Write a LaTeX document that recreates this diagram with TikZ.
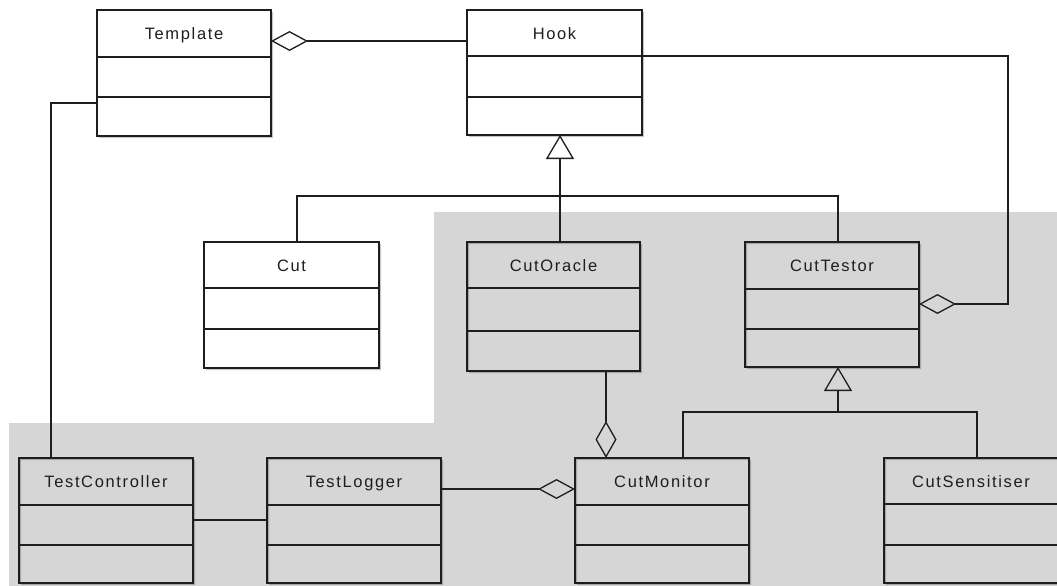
\documentclass[tikz,border=0pt]{standalone}
\usepackage{fontspec}
\newfontfamily\umlfont{Liberation Sans}[LetterSpace=10]
\usetikzlibrary{arrows.meta}
\definecolor{bggray}{RGB}{214,214,214}
\definecolor{ink}{RGB}{30,30,30}
\tikzset{
  clsbox/.style={draw=ink, line width=1.6pt, rectangle, inner sep=0pt, outer sep=0pt},
  clsline/.style={draw=ink, line width=1.6pt},
  clstitle/.style={font=\umlfont\fontsize{16.5}{19}\selectfont, text=ink, inner sep=0pt, anchor=base},
  boxshadow/.style={fill=black, fill opacity=0.22, even odd rule},
  conn/.style={draw=ink, line width=1.4pt},
  aggr/.style={-{Diamond[open, length=37pt, width=20pt, line width=1.3pt]}},
  gen/.style={-{Triangle[open, length=24pt, width=28pt, line width=1.3pt]}}
}
% name, x1, y1, x2, y2, divider1, divider2, title, fill
\newcommand\umlcls[9]{%
  \fill[boxshadow] (#2+2,#3+2) rectangle (#4+2,#5+2) (#2,#3) rectangle (#4,#5);
  \node[clsbox, fill=#9, anchor=north west, minimum width={(#4-#2)*1pt}, minimum height={(#5-#3)*1pt}] (#1) at (#2,#3) {};
  \draw[clsline] (#2,#6) -- (#4,#6) (#2,#7) -- (#4,#7);
  \node[clstitle] (#1-t) at ({(#2+#4)/2},{#3+29.5}) {#8};
}
\begin{document}
\begin{tikzpicture}[x=1pt, y=-1pt]
\useasboundingbox (0,0) rectangle (1057,586);
\fill[white] (0,0) rectangle (1057,586);
% shaded region
\fill[bggray] (434,212) -- (1057,212) -- (1057,586) -- (9,586) -- (9,423) -- (434,423) -- cycle;

% classes
\umlcls{template}{97}{10}{271}{136}{57}{97}{Template}{white}
\umlcls{hook}{467}{10}{642}{135}{56}{97}{Hook}{white}
\umlcls{cut}{204}{242}{379}{368}{288}{329}{Cut}{white}
\umlcls{cutoracle}{467}{242}{640}{371}{288}{331}{CutOracle}{none}
\umlcls{cuttestor}{745}{242}{919}{367}{289}{329}{CutTestor}{none}
\umlcls{testctrl}{19}{458}{193}{583}{505}{545}{TestController}{none}
\umlcls{testlogger}{267}{458}{441}{583}{505}{545}{TestLogger}{none}
\umlcls{cutmonitor}{575}{458}{749}{583}{505}{545}{CutMonitor}{none}
\umlcls{cutsens}{884}{458}{1058}{583}{504}{545}{CutSensitiser}{none}

% junction coordinates
\coordinate (hookjoin) at (560,196);
\coordinate (testorjoin) at (838,412);

% Template <>--- Hook
\draw[conn, aggr] ([yshift=-31pt]hook.north west) -- ([yshift=-31pt]template.north east);
% Hook ---<> CutTestor
\draw[conn, aggr] ([yshift=-46pt]hook.north east) -- ++(366,0) |- ([yshift=-62pt]cuttestor.north east);
% generalisation to Hook
\draw[conn, gen] ([xshift=6.5pt]cutoracle.north) -- ([xshift=5.5pt]hook.south);
\draw[conn] ([xshift=5.5pt]cut.north) |- (hookjoin) -| ([xshift=6pt]cuttestor.north);
% generalisation to CutTestor
\draw[conn, gen] (testorjoin) -- ([xshift=6pt]cuttestor.south);
\draw[conn] ([xshift=21pt]cutmonitor.north) |- (testorjoin) -| ([xshift=6pt]cutsens.north);
% CutOracle ---<> CutMonitor
\draw[conn, -{Diamond[open, length=37pt, width=21pt, line width=1.3pt]}] ([xshift=52.5pt]cutoracle.south) -- ([xshift=-56pt]cutmonitor.north);
% TestLogger ---<> CutMonitor
\draw[conn, aggr] ([yshift=-31pt]testlogger.north east) -- ([yshift=-31pt]cutmonitor.north west);
% TestController --- TestLogger
\draw[conn] ([yshift=0.5pt]testctrl.east) -- ([yshift=0.5pt]testlogger.west);
% TestController --- Template
\draw[conn] ([xshift=-55pt]testctrl.north) |- ([yshift=-30pt]template.west);
\end{tikzpicture}
\end{document}
